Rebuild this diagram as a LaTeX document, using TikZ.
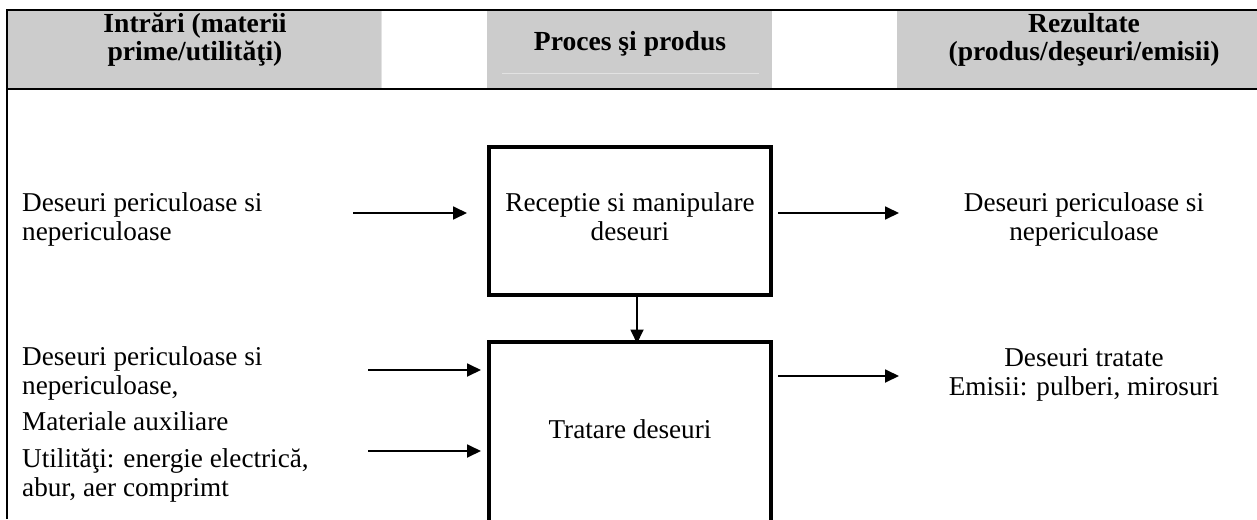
\documentclass[tikz,border=0pt]{standalone}
\usepackage{fontspec}
\setmainfont{Liberation Serif}
\usetikzlibrary{arrows.meta}
\definecolor{hdrgray}{HTML}{CCCCCC}
\definecolor{hdrline}{HTML}{E2E2E2}
\newcommand\mybodyfont{\fontsize{27.2}{29}\selectfont}
\newcommand\myhdrfont{\fontsize{27.6}{27}\selectfont\bfseries}
\begin{document}
\begin{tikzpicture}[x=1pt,y=-1pt,
  rulex/.style={line width=2pt},
  procbox/.style={draw, line width=4pt, minimum width=282pt, inner sep=0pt, outer sep=0pt},
  arr/.style={line width=1.8pt, -{Triangle[length=14pt,width=13pt]}},
  txt/.style={inner sep=0pt, font=\mybodyfont},
  hdr/.style={inner sep=0pt, font=\myhdrfont},
]
\path[use as bounding box] (0,0) rectangle (1257,519);
\clip (0,0) rectangle (1257,519);
% header cells
\fill[hdrgray] (8,11) rectangle (382,88);
\fill[hdrgray] (487,11) rectangle (772,88);
\fill[hdrgray] (897,11) rectangle (1257,88);
\draw[hdrline, line width=0.8pt] (502,73) -- (759,73);
\draw[hdrline, line width=0.8pt] (381,11) -- (381,88);
\draw[rulex] (7,519) -- (7,10) -- (1257,10);
\draw[rulex] (7,89) -- (1257,89);
% header texts
\node[hdr, anchor=base] (hin) at (195,33) {\begin{tabular}[t]{@{}c@{}}Intrări (materii\\prime/utilităţi)\end{tabular}};
\node[hdr, anchor=base] (hproc) at (630,51) {Proces şi produs};
\node[hdr, anchor=base] (hout) at (1084,33) {\begin{tabular}[t]{@{}c@{}}Rezultate\\(produs/deşeuri/emisii)\end{tabular}};
% process boxes
\node[procbox, minimum height=148.5pt] (recv) at (630,221) {};
\node[txt, anchor=base] (recvlbl) at (630,211) {\begin{tabular}[t]{@{}c@{}}Receptie si manipulare\\deseuri\end{tabular}};
\node[procbox, minimum height=220pt, anchor=north] (treat) at (630,341.5) {};
\node[txt, anchor=base] (treatlbl) at (630,438) {Tratare deseuri};
% inputs
\node[txt, anchor=base west] (in1) at (22,211) {\begin{tabular}[t]{@{}l@{}}Deseuri periculoase si\\nepericuloase\end{tabular}};
\node[txt, anchor=base west] (in2) at (22,365) {\begin{tabular}[t]{@{}l@{}}Deseuri periculoase si\\nepericuloase,\\[7pt]Materiale auxiliare\\[8pt]Utilităţi: energie electrică,\\abur, aer comprimt\end{tabular}};
% outputs
\node[txt, anchor=base] (out1) at (1084,211) {\begin{tabular}[t]{@{}c@{}}Deseuri periculoase si\\nepericuloase\end{tabular}};
\node[txt, anchor=base] (out2) at (1084,366) {\begin{tabular}[t]{@{}c@{}}Deseuri tratate\\Emisii: pulberi, mirosuri\end{tabular}};
% arrow endpoints
\coordinate (a1s) at (353,213);
\coordinate (a2s) at (368,370);
\coordinate (a3s) at (368,451);
\coordinate (o1e) at (899,213);
\coordinate (o2e) at (899,376);
\coordinate (vx) at (637,0);
% connectors
\draw[arr] (a1s) -- ([xshift=-22pt]recv.west |- a1s);
\draw[arr] ([xshift=7pt]recv.east |- o1e) -- (o1e);
\draw[arr] (recv.south -| vx) -- ([yshift=-2pt]treat.north -| vx);
\draw[arr] (a2s) -- ([xshift=-8pt]treat.west |- a2s);
\draw[arr] (a3s) -- ([xshift=-8pt]treat.west |- a3s);
\draw[arr] ([xshift=7pt]treat.east |- o2e) -- (o2e);
\end{tikzpicture}
\end{document}
